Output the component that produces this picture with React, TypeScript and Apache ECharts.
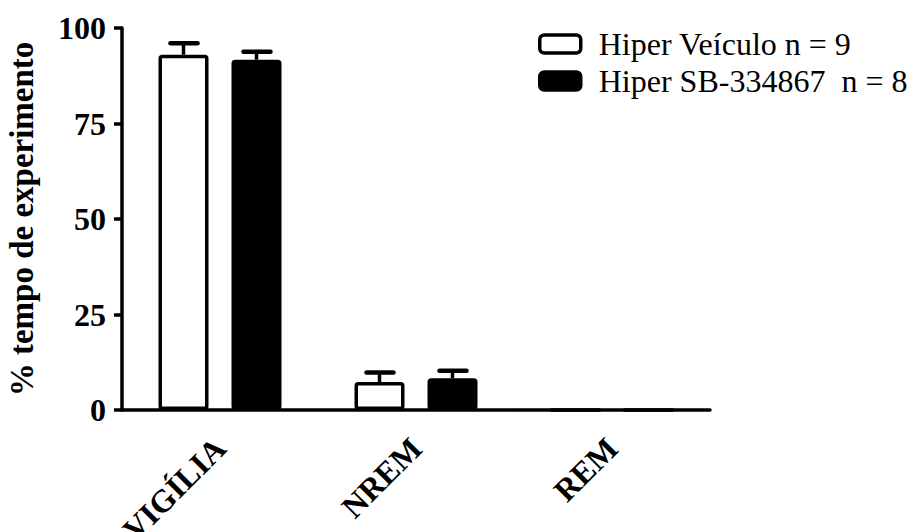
import React, { useEffect, useRef } from "react";
import * as echarts from "echarts";

const categories = ["VIGÍLIA", "NREM", "REM"];
const vehicleName = "Hiper Veículo n = 9";
const sbName = "Hiper SB-334867  n = 8";
const vehicleMean = [93.0, 7.3, 0];
const vehicleErr = [3.0, 2.5, 0];
const sbMean = [91.7, 8.3, 0];
const sbErr = [2.1, 2.0, 0];
const yTicks = [0, 25, 50, 75, 100];

const FONT = "'Liberation Serif', 'Times New Roman', serif";
const BAR_W = 50;
const BAR_GAP = 23;

function errSeries(name: string, means: number[], errs: number[], sign: number) {
  return {
    type: "custom",
    name: name + " err",
    z: 5,
    data: means.map((m, i) => [i, m, errs[i]]),
    encode: { x: 0, y: 1 },
    renderItem: (params: any, api: any) => {
      const err = api.value(2);
      if (!err) return null;
      const base = api.coord([api.value(0), api.value(1)]);
      const top = api.coord([api.value(0), api.value(1) + err]);
      const cx = base[0] + sign * (BAR_W + BAR_GAP) / 2;
      return {
        type: "group",
        children: [
          { type: "line", shape: { x1: cx, y1: base[1], x2: cx, y2: top[1] }, style: { stroke: "#000", lineWidth: 3.5 } },
          { type: "line", shape: { x1: cx - 13, y1: top[1], x2: cx + 14, y2: top[1] }, style: { stroke: "#000", lineWidth: 4.5, lineCap: "round" } },
        ],
      };
    },
  };
}

export default function App() {
  const ref = useRef<HTMLDivElement>(null);
  useEffect(() => {
    const chart = echarts.init(ref.current!, null, { renderer: "svg" });
    chart.setOption({
      animation: false,
      backgroundColor: "#fff",
      textStyle: { fontFamily: FONT, color: "#000" },
      grid: { left: 122, right: 212, top: 28, bottom: 122, containLabel: false, outerBoundsMode: "none" },
      legend: {
        orient: "vertical",
        left: 533,
        top: 23,
        itemWidth: 41,
        itemHeight: 18,
        itemGap: 5,
        icon: "roundRect",
        textStyle: { fontFamily: FONT, fontSize: 32, color: "#000", padding: [0, 0, 0, 13] },
        data: [
          { name: vehicleName, itemStyle: { color: "#fff", borderColor: "#000", borderWidth: 3.5 } },
          { name: sbName, itemStyle: { color: "#000", borderColor: "#000", borderWidth: 3.5 } },
        ],
      },
      xAxis: {
        type: "category",
        data: categories,
        axisLine: { lineStyle: { color: "#000", width: 3.5 } },
        axisTick: { alignWithLabel: true, length: 10, lineStyle: { color: "#000", width: 3.5 } },
        axisLabel: {
          rotate: 45,
          margin: 33,
          padding: [17, 0, 0, 0],
          fontFamily: FONT,
          fontWeight: "bold",
          fontSize: 32,
          color: "#000",
        },
        splitLine: { show: false },
      },
      yAxis: {
        type: "value",
        min: 0,
        max: 100,
        interval: 25,
        name: "% tempo de experimento",
        nameLocation: "middle",
        nameRotate: 90,
        nameGap: 84,
        nameTextStyle: { fontFamily: FONT, fontWeight: "bold", fontSize: 33, color: "#000" },
        axisLine: { show: true, lineStyle: { color: "#000", width: 3.5 } },
        axisTick: { show: true, length: 8, lineStyle: { color: "#000", width: 3.5 } },
        axisLabel: {
          margin: 16,
          fontFamily: FONT,
          fontWeight: "bold",
          fontSize: 32,
          color: "#000",
          formatter: (v: number) => (yTicks.includes(v) ? String(v) : ""),
        },
        splitLine: { show: false },
      },
      series: [
        {
          type: "bar",
          name: vehicleName,
          data: vehicleMean,
          barWidth: BAR_W,
          barGap: (BAR_GAP / BAR_W) * 100 + "%",
          itemStyle: { color: "#fff", borderColor: "#000", borderWidth: 3.5, borderRadius: 2 },
        },
        {
          type: "bar",
          name: sbName,
          data: sbMean,
          barWidth: BAR_W,
          barGap: (BAR_GAP / BAR_W) * 100 + "%",
          itemStyle: { color: "#000", borderColor: "#000", borderWidth: 3.5, borderRadius: 2 },
        },
        errSeries(vehicleName, vehicleMean, vehicleErr, -1),
        errSeries(sbName, sbMean, sbErr, 1),
      ],
    });
    return () => chart.dispose();
  }, []);
  return <div ref={ref} style={{ position: "absolute", left: 0, top: 0, width: 922, height: 532 }} />;
}
